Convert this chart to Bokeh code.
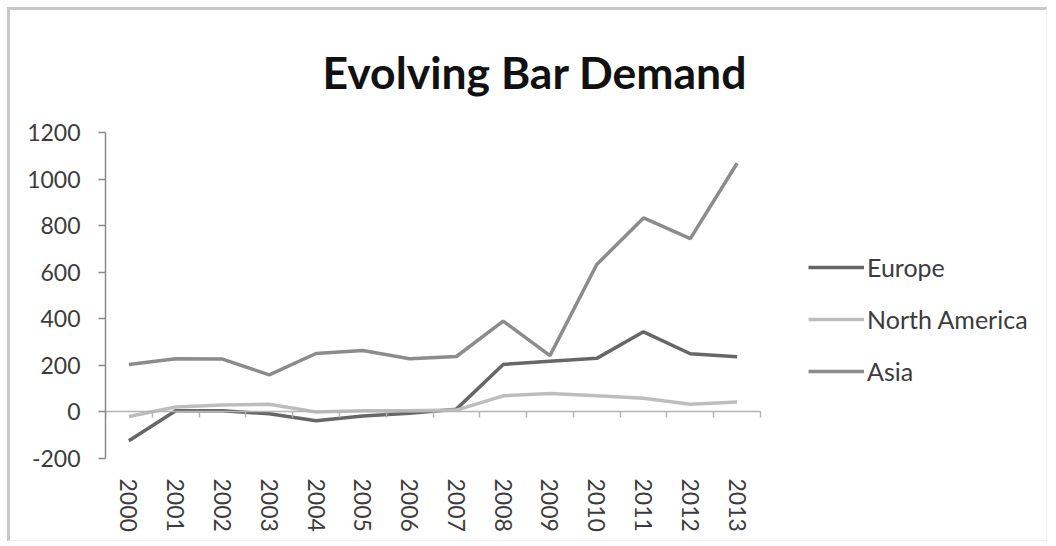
from bokeh.plotting import figure
from bokeh.models import (Range1d, LinearAxis, FixedTicker, Title,
                          Legend, LegendItem, ColumnDataSource, CustomJSTickFormatter)
from bokeh.embed import file_html
from bokeh.resources import INLINE

# ---- data ----
years = [2000, 2001, 2002, 2003, 2004, 2005, 2006,
         2007, 2008, 2009, 2010, 2011, 2012, 2013]
year_labels = ["2000", "2001", "2002", "2003", "2004", "2005", "2006",
               "2007", "2008", "2009", "2010", "2011", "2012", "2013"]
europe = [-124, 5, 5, -8, -38, -17, -6, 12, 204, 218, 230, 344, 250, 237]
north_america = [-20, 21, 30, 33, 0, 5, 5, 8, 69, 79, 69, 59, 33, 43]
asia = [204, 228, 227, 159, 251, 264, 228, 238, 390, 242, 633, 833, 744, 1068]
y_ticks = [-200, 0, 200, 400, 600, 800, 1000, 1200]
series_names = ["Europe", "North America", "Asia"]
title_text = "Evolving Bar Demand"

FONT = "Lato"
TXT = "#3c3c3c"

# layout (pixels)
W, H = 1040, 534
LEFT, BOTTOM = 95, 86
PLOT_W = 655                      # width of the year axis area
frame_w = W - LEFT
extra_slots = frame_w / (PLOT_W / len(years)) - len(years)   # room for legend

src = ColumnDataSource(dict(year=years, eu=europe, na=north_america, asia=asia))

p = figure(width=W, height=H,
           x_range=Range1d(years[0] - 0.5, years[-1] + 0.5 + extra_slots),
           y_range=Range1d(y_ticks[0], y_ticks[-1]),
           output_backend="svg", toolbar_location=None,
           min_border_left=LEFT, min_border_right=0,
           min_border_top=0, min_border_bottom=BOTTOM)
p.styles = {"margin-top": "7px", "margin-left": "7px",
            "border-top": "3px solid #c8c8c8", "border-left": "3px solid #c8c8c8",
            "border-right": "1px solid #f0f0f0", "border-bottom": "1px solid #f0f0f0"}
p.outline_line_color = None
p.xgrid.visible = False
p.ygrid.visible = False
p.background_fill_color = "white"
p.border_fill_color = "white"

# title
p.title = Title(text=title_text, align="left", offset=217, vertical_align="middle",
                standoff=67, text_font=FONT, text_font_style="bold",
                text_font_size="44.5px", text_color="#111111")

# y axis
ya = p.yaxis[0]
ya.ticker = FixedTicker(ticks=y_ticks)
ya.major_label_overrides = {t: str(t) for t in y_ticks}
ya.axis_line_color = "#8a8a8a"
ya.axis_line_width = 1.5
ya.major_tick_line_color = "#8a8a8a"
ya.major_tick_line_width = 1.5
ya.major_tick_in = 0
ya.major_tick_out = 7
ya.minor_tick_line_color = None
ya.major_label_standoff = 18
ya.major_label_text_font = FONT
ya.major_label_text_font_size = "23px"
ya.major_label_text_color = TXT

# x axis: labels only at bottom
xa = p.xaxis[0]
xa.ticker = FixedTicker(ticks=years)
xa.major_label_overrides = dict(zip(years, year_labels))
xa.axis_line_color = None
xa.major_tick_line_color = None
xa.minor_tick_line_color = None
xa.major_tick_in = 0
xa.major_tick_out = 0
xa.major_label_orientation = "vertical"
xa.major_label_standoff = 20
xa.major_label_text_font = FONT
xa.major_label_text_font_size = "23px"
xa.major_label_text_color = TXT

# zero line with tick marks between categories
edges = [y - 0.5 for y in years] + [years[-1] + 0.5]
za = LinearAxis(fixed_location=0, bounds=(edges[0], edges[-1]),
                ticker=FixedTicker(ticks=edges),
                formatter=CustomJSTickFormatter(code="return ''"),
                axis_line_color="#b4b4b4", axis_line_width=1.5,
                major_tick_line_color="#b4b4b4", major_tick_line_width=1.5,
                major_tick_in=0, major_tick_out=6,
                minor_tick_line_color=None)
p.add_layout(za, "below")

r_eu = p.line("year", "eu", source=src, line_color="#676767", line_width=3.5)
r_na = p.line("year", "na", source=src, line_color="#bdbdbd", line_width=3.5)
r_as = p.line("year", "asia", source=src, line_color="#8c8c8c", line_width=3.5)

legend = Legend(items=[LegendItem(label=series_names[0], renderers=[r_eu]),
                       LegendItem(label=series_names[1], renderers=[r_na]),
                       LegendItem(label=series_names[2], renderers=[r_as])],
                location=(PLOT_W + 48, 72), orientation="vertical",
                glyph_width=56, glyph_height=30, label_height=30,
                label_standoff=3, spacing=22, padding=0, margin=0,
                border_line_alpha=0, background_fill_alpha=0,
                label_text_font=FONT, label_text_font_size="25px",
                label_text_color=TXT)
p.add_layout(legend)

open("out.html", "w").write(file_html(p, INLINE))
